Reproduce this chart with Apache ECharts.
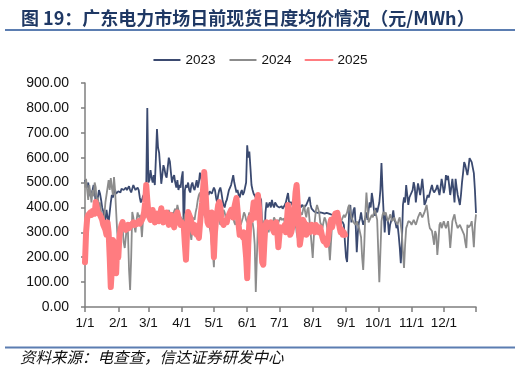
<!DOCTYPE html>
<html>
<head>
<meta charset="utf-8">
<script src="https://cdn.jsdelivr.net/npm/echarts@6/dist/echarts.min.js"></script>
<style>
html,body{margin:0;padding:0;background:#fff;}
#c{width:520px;height:373px;}
</style>
</head>
<body>
<div id="c"></div>
<script>
// Month structure for the category axis (mm/dd)
const monthDays = [31,28,31,30,31,30,31,31,30,31,30,31];
const monthTickLabels = ['1/1','2/1','3/1','4/1','5/1','6/1','7/1','8/1','9/1','10/1','11/1','12/1'];
const seriesNames = ['2023','2024','2025'];
const yTicks = [0,100,200,300,400,500,600,700,800,900];

// Daily average price, 元/MWh
const v2023 = [
// Jan
510,495,480,500,470,445,455,470,490,460,420,415,440,470,455,430,400,385,325,350,390,360,340,380,420,450,440,460,470,455,460,
// Feb
465,470,460,475,480,470,465,480,470,475,485,470,460,475,490,480,470,465,480,470,440,420,430,445,440,460,480,800,
// Mar
500,510,550,520,500,530,490,600,715,640,620,560,495,530,570,555,530,520,560,600,585,540,500,520,530,500,480,510,470,490,480,
// Apr
520,545,270,470,490,480,500,470,460,490,500,480,470,490,510,480,500,540,520,500,460,440,455,470,460,450,465,470,455,450,
// May
480,470,440,420,450,470,480,460,430,410,400,420,430,450,470,480,490,510,530,500,480,460,470,450,440,460,470,450,460,480,500,
// Jun
650,600,625,560,490,470,455,450,440,410,450,360,440,430,300,200,260,380,420,400,410,420,400,430,410,400,420,415,405,400,
// Jul
400,398,405,395,400,410,420,440,458,420,415,420,410,400,405,410,400,395,410,406,400,410,405,400,395,410,420,430,442,410,395,
// Aug
390,385,392,380,375,378,385,380,372,378,380,375,382,378,370,375,380,372,365,370,360,356,362,355,350,350,345,352,340,330,260,
// Sep
200,181,280,390,410,340,360,390,400,330,220,300,340,355,380,350,330,345,360,380,350,390,420,400,458,430,390,366,398,380,
// Oct
400,420,470,578,470,380,300,370,355,345,290,330,337,360,388,350,340,317,330,290,240,176,260,410,440,420,490,450,410,440,450,
// Nov
450,470,502,480,420,460,497,475,450,480,515,470,410,420,435,450,440,458,475,490,470,460,458,475,490,470,450,480,515,490,
// Dec
458,480,530,510,527,490,450,480,515,470,420,515,480,450,430,410,450,502,540,582,570,565,530,560,598,590,582,560,538,470,378
];

const v2024 = [
// Jan
480,515,470,430,490,460,420,470,445,500,480,410,440,400,420,380,360,340,370,420,450,480,510,470,518,480,450,522,470,384,300,
// Feb
260,230,300,340,320,260,237,280,330,300,150,68,200,382,360,322,300,350,380,360,370,340,281,350,370,380,360,380,
// Mar
360,370,380,350,360,390,370,340,360,380,370,390,360,350,370,380,360,345,375,390,370,360,380,370,385,395,380,410,390,370,360,
// Apr
360,350,340,370,380,360,340,320,300,270,320,360,350,380,400,430,450,460,430,400,380,370,360,380,350,340,320,300,250,220,
// May
160,280,340,360,380,350,330,340,370,390,380,360,340,350,365,380,370,350,360,340,330,350,370,360,340,330,345,360,380,370,350,
// Jun
340,360,380,350,330,340,310,250,60,200,330,300,340,320,280,330,350,310,340,320,300,340,330,310,340,360,350,330,350,340,
// Jul
340,360,350,345,355,340,350,360,345,330,340,360,350,330,320,340,300,277,320,360,380,370,390,410,380,360,390,400,350,300,250,
// Aug
197,280,350,390,410,418,380,340,330,317,340,360,350,330,300,250,188,260,330,350,360,340,350,330,320,317,330,350,360,370,360,
// Sep
370,380,400,410,380,360,350,340,340,330,345,330,320,317,280,200,149,250,380,460,400,340,350,360,370,360,380,390,398,350,
// Oct
350,100,220,345,370,382,370,380,360,345,355,372,360,345,350,360,345,340,330,350,360,330,294,220,157,250,317,330,345,350,340,
// Nov
330,340,350,340,330,345,360,370,380,370,360,370,380,395,410,380,340,317,310,305,280,250,305,290,209,260,330,340,317,330,
// Dec
345,330,317,330,345,300,237,290,345,360,372,345,330,317,325,330,320,317,300,290,260,237,330,320,317,330,345,300,240,330,372
];

const v2025 = [
// Jan
180,300,355,370,375,380,370,385,380,375,422,400,380,375,370,365,350,330,320,310,290,340,300,200,80,150,269,260,220,136,250,
// Feb
200,280,310,330,341,320,317,310,320,330,317,325,330,335,340,330,335,333,340,345,335,340,350,360,380,420,490,430,
// Mar
380,360,350,370,390,360,340,355,375,360,345,370,397,365,340,350,360,380,365,330,350,370,360,340,320,350,370,380,360,345,330,
// Apr
340,330,320,250,190,300,382,370,360,340,320,300,330,310,290,300,277,330,380,420,480,542,480,400,341,330,350,360,380,300,
// May
200,300,350,380,410,422,400,360,341,330,345,350,341,360,370,380,390,375,360,400,420,438,390,330,290,300,290,280,300,250,200,
// Jun
116,250,341,360,350,380,420,400,360,420,450,400,320,250,180,170,260,330,340,320,317,330,340,320,310,300,330,340,300,240,
// Jul
290,320,317,310,320,330,300,350,410,380,290,300,320,340,400,460,490,420,330,250,280,341,350,340,320,290,330,310,300,320,330,
// Aug
320,310,300,330,320,310,300,320,300,280,265,257,260,250,270,300,330,350,320,340,360,375,370,378,350,320,300,310,290,300,290
];

// Build mm/dd categories
const categories = [];
const monthStart = {};
monthDays.forEach((n, m) => {
  for (let d = 1; d <= n; d++) {
    if (d === 1) monthStart[categories.length] = true;
    categories.push((m + 1) + '/' + d);
  }
});
const lastIdx = categories.length - 1;

const chart = echarts.init(document.getElementById('c'), null, {renderer: 'canvas'});
const FONT = 'Liberation Sans, Arial, sans-serif';
chart.setOption({
  animation: false,
  backgroundColor: '#fff',
  title: {
    text: '图 19：广东电力市场日前现货日度均价情况（元/MWh）',
    left: 16, top: 4,
    textStyle: {fontFamily: 'Noto Sans CJK SC', fontWeight: 'bold', fontSize: 18, color: '#1F3864'}
  },
  legend: {
    data: seriesNames,
    top: 48, left: 'center',
    itemWidth: 27, itemHeight: 10, itemGap: 13,
    itemStyle: {opacity: 0},
    textStyle: {fontFamily: FONT, fontSize: 13.5, color: '#111'}
  },
  grid: {left: 85, right: 44, top: 83, bottom: 66},
  xAxis: {
    type: 'category',
    data: categories,
    boundaryGap: false,
    axisLine: {lineStyle: {color: '#7f7f7f', width: 1.5}},
    axisTick: {
      alignWithLabel: true, length: 5,
      interval: (i) => !!monthStart[i] || i === lastIdx,
      lineStyle: {color: '#7f7f7f', width: 1.5}
    },
    axisLabel: {
      interval: (i) => !!monthStart[i],
      formatter: (v) => monthTickLabels.indexOf(v) >= 0 ? v : '',
      fontFamily: FONT, fontSize: 13.5, color: '#111', margin: 9
    },
    splitLine: {show: false}
  },
  yAxis: {
    type: 'value', min: 0, max: 900, interval: 100,
    axisLine: {show: true, lineStyle: {color: '#7f7f7f', width: 1.5}},
    axisTick: {show: true, length: 4, lineStyle: {color: '#7f7f7f', width: 1.5}},
    axisLabel: {
      formatter: (v) => yTicks.indexOf(v) >= 0 ? v.toFixed(2) : '',
      fontFamily: FONT, fontSize: 14, color: '#111', margin: 16
    },
    splitLine: {show: false}
  },
  series: [
    {name: '2023', type: 'line', data: v2023, symbol: 'none',
     lineStyle: {color: '#3B4A70', width: 1.8}, itemStyle: {color: '#3B4A70'}},
    {name: '2024', type: 'line', data: v2024, symbol: 'none',
     lineStyle: {color: '#8C8C8C', width: 1.8}, itemStyle: {color: '#8C8C8C'}},
    {name: '2025', type: 'line', data: v2025, symbol: 'none',
     lineStyle: {color: '#FF7C80', width: 6, join: 'round', cap: 'round'}, itemStyle: {color: '#FF7C80'}}
  ],
  graphic: [
    {type: 'line', shape: {x1: 5, y1: 30, x2: 515, y2: 30}, style: {stroke: '#5B7DB1', lineWidth: 2}},
    {type: 'line', shape: {x1: 5, y1: 347.5, x2: 515, y2: 347.5}, style: {stroke: '#5B7DB1', lineWidth: 2}},
    {type: 'text', left: 20, top: 349,
     style: {text: '资料来源：电查查，信达证券研发中心', font: 'italic 15.5px "Noto Sans CJK SC"', fill: '#111'}}
  ]
});
</script>
</body>
</html>
